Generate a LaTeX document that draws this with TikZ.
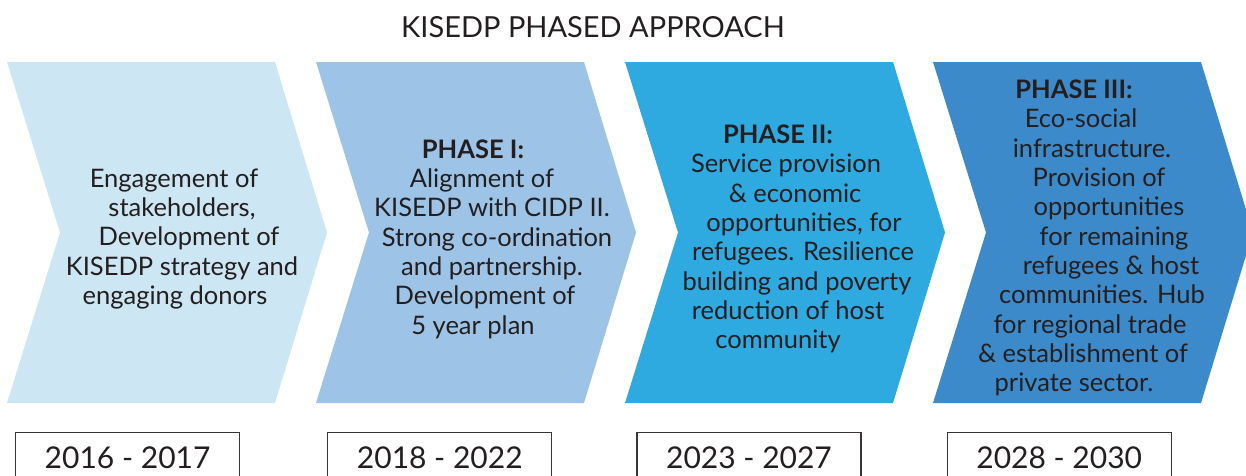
\documentclass[tikz,border=0pt]{standalone}
\usepackage{fontspec}
\setmainfont{Lato}
\usetikzlibrary{positioning}

\definecolor{phasezero}{HTML}{CDE6F3}
\definecolor{phaseone}{HTML}{9DC3E6}
\definecolor{phasetwo}{HTML}{2EAAE1}
\definecolor{phasethree}{HTML}{3C8ACA}
\definecolor{inkgray}{HTML}{231F20}

% one line of a block, moved sideways by half of #1
\newcommand{\shiftline}[2]{\makebox[0pt]{\hspace*{#1}#2}}

\begin{document}
\begin{tikzpicture}[x=1pt, y=-1pt,
					phasetext/.style={align=center,
					text=inkgray,
					font=\fontsize{25.5}{29.3}\selectfont},
					yearbox/.style={rectangle,
					draw=inkgray!90,
					line width=1.2pt,
					fill=white,
					text=inkgray,
					minimum width=224pt,
					minimum height=50pt,
					font=\fontsize{30}{34}\selectfont}
					]

\useasboundingbox (0,0) rectangle (1246,475);

% title
\node (title) [anchor=base, text=inkgray, font=\fontsize{29}{34}\selectfont] at (593,37) {KISEDP PHASED APPROACH};

% chevrons
\fill[phasezero] (7,62) -- (275,62) -- (327,232.5) -- (275,403) -- (7,403) -- (60,232.5) -- cycle;
\fill[phaseone] (316,62) -- (584,62) -- (636,232.5) -- (584,403) -- (316,403) -- (369,232.5) -- cycle;
\fill[phasetwo] (625,62) -- (893,62) -- (945,232.5) -- (893,403) -- (625,403) -- (678,232.5) -- cycle;
\fill[phasethree] (933,62) -- (1201,62) -- (1253,232.5) -- (1201,403) -- (933,403) -- (986,232.5) -- cycle;

% chevron texts
\node[phasetext] (prep) at (180,239) {\shiftline{-12pt}{Engagement of}\\
\shiftline{4pt}{stakeholders,}\\
\shiftline{18pt}{Development of}\\
\shiftline{4pt}{KISEDP strategy and}\\
\shiftline{-10pt}{engaging donors}};

\node[phasetext] (phase1) at (487,239) {\shiftline{-28pt}{\textbf{PHASE I:}}\\
\shiftline{-10pt}{Alignment of}\\
\shiftline{10pt}{KISEDP with CIDP II.}\\
\shiftline{20pt}{Strong co-ordination}\\
\shiftline{10pt}{and partnership.}\\
\shiftline{-4pt}{Development of}\\
\shiftline{-28pt}{5 year plan}};

\node[phasetext] (phase2) at (790,239) {\shiftline{-24pt}{\textbf{PHASE II:}}\\
\shiftline{-8pt}{Service provision}\\
\shiftline{10pt}{\& economic}\\
\shiftline{28pt}{opportunities, for}\\
\shiftline{26pt}{refugees. Resilience}\\
\shiftline{14pt}{building and poverty}\\
\shiftline{-4pt}{reduction of host}\\
\shiftline{-24pt}{community}};

\node[phasetext] (phase3) at (1093,238) {\shiftline{-38pt}{\textbf{PHASE III:}}\\
\shiftline{-24pt}{Eco-social}\\
\shiftline{-2pt}{infrastructure.}\\
\shiftline{12pt}{Provision of}\\
\shiftline{32pt}{opportunities}\\
\shiftline{42pt}{for remaining}\\
\shiftline{36pt}{refugees \& host}\\
\shiftline{18pt}{communities. Hub}\\
\shiftline{-6pt}{for regional trade}\\
\shiftline{-20pt}{\& establishment of}\\
\shiftline{-38pt}{private sector.}};

% years
\node[yearbox] (y1) [anchor=north west] at (15,432) {2016 - 2017};
\node[yearbox] (y2) [right=87pt of y1] {2018 - 2022};
\node[yearbox] (y3) [right=84pt of y2] {2023 - 2027};
\node[yearbox] (y4) [right=85pt of y3] {2028 - 2030};

\end{tikzpicture}
\end{document}
